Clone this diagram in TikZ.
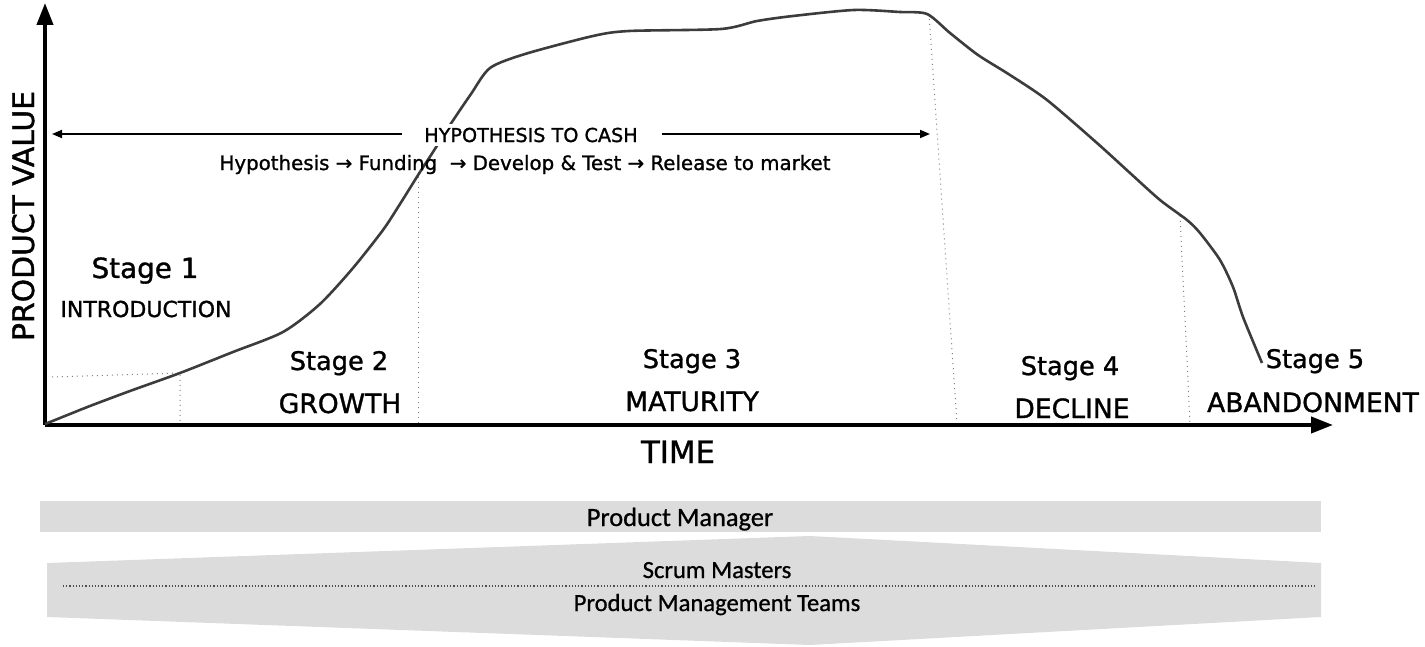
\documentclass[tikz,border=0pt]{standalone}
\usepackage{fontspec}
\setmainfont{DejaVu Sans}[FakeBold=1.2]
\newfontfamily\calfont{Carlito}[FakeBold=0.8]
\usetikzlibrary{arrows.meta}
\definecolor{bargray}{RGB}{220,220,220}
\definecolor{curvegray}{RGB}{60,60,60}
\begin{document}
\begin{tikzpicture}[x=0.5pt,y=-0.5pt,
  stagelbl/.style={font=\fontsize{12.8}{14}\selectfont, inner sep=0pt, anchor=base},
  phaselbl/.style={font=\fontsize{13.3}{15}\selectfont, inner sep=0pt, anchor=base},
  axisline/.style={line width=2pt, -{Triangle[length=11pt,width=8pt]}},
  hyparrow/.style={line width=0.9pt, -{Triangle[length=5pt,width=4pt]}},
  guide/.style={gray, dotted, line width=0.5pt},
  barlbl/.style={font=\calfont\fontsize{12.3}{14}\selectfont, inner sep=0pt, anchor=base}
]
\useasboundingbox (0,0) rectangle (1425,647);

% axes
\coordinate (O) at (45,425);
\coordinate (ytip) at (45,3);
\coordinate (xtip) at (1333,425);
\draw[axisline] (O) -- (ytip);
\draw[axisline] (O) -- (xtip);

% guide lines
\coordinate (g1a) at (52,377);
\coordinate (g1b) at (180,373);
\coordinate (g1c) at (180,423);
\coordinate (g2a) at (418,172);
\coordinate (g2b) at (418,423);
\coordinate (g3a) at (929,14);
\coordinate (g3b) at (957,423);
\coordinate (g4a) at (1180,216);
\coordinate (g4b) at (1190,423);
\draw[guide] (g1a) -- (g1b) -- (g1c);
\draw[guide] (g2a) -- (g2b);
\draw[guide] (g3a) -- (g3b);
\draw[guide] (g4a) -- (g4b);

% curve
\draw[curvegray, line width=1.3pt, line join=round] plot[smooth, tension=0.45] coordinates {
 (45,424) (60,418) (90,406) (130,391) (180,373) (233,352) (283,332) (320,304)
 (353,268) (383,230) (400,204) (420,172) (433,152) (452,122) (471,94) (490,68)
 (525,54) (593,36) (629,31) (721,29) (757,21) (793,16) (854,10) (900,12) (927,14)
 (950,33) (978,55) (1010,75) (1047,100) (1097,143) (1130,173) (1160,200) (1187,220)
 (1200,233) (1220,260) (1233,287) (1243,317) (1262,363)};

% axis titles
\node[font=\fontsize{14.9}{16}\selectfont, rotate=90, anchor=base, inner sep=0pt] (pv) at (34,216) {PRODUCT VALUE};
\node[font=\fontsize{15.4}{17}\selectfont, anchor=base, inner sep=0pt] (time) at (678,463) {TIME};

% hypothesis to cash
\node[font=\fontsize{9.6}{11}\selectfont, anchor=base, fill=white, inner xsep=1pt, inner ysep=2pt] (h2c) at (531,142) {HYPOTHESIS TO CASH};
\coordinate (hl) at (52,134);
\coordinate (hr) at (930,134);
\draw[hyparrow] ([xshift=-10pt]h2c.west |- hl) -- (hl);
\draw[hyparrow] ([xshift=11pt]h2c.east |- hr) -- (hr);
\node[font=\fontsize{9.9}{11}\selectfont, anchor=base, inner sep=0pt] (flow) at (525,170) {Hypothesis → Funding \ → Develop \& Test → Release to market};

% stage labels
\node[stagelbl, font=\fontsize{13.9}{15}\selectfont] (s1) at (145,278) {Stage 1};
\node[stagelbl, font=\fontsize{11}{12}\selectfont] (p1) at (146,317) {INTRODUCTION};
\node[stagelbl] (s2) at (339,370) {Stage 2};
\node[phaselbl] (p2) at (340,413) {GROWTH};
\node[stagelbl] (s3) at (692,368) {Stage 3};
\node[phaselbl] (p3) at (692,411) {MATURITY};
\node[stagelbl] (s4) at (1070,375) {Stage 4};
\node[phaselbl] (p4) at (1072,418) {DECLINE};
\node[stagelbl] (s5) at (1315,368) {Stage 5};
\node[phaselbl] (p5) at (1313,412) {ABANDONMENT};

% bottom bars
\fill[bargray] (40,501) rectangle (1321,532);
\fill[bargray] (47,563) -- (810,536) -- (1321,563) -- (1321,617) -- (810,645) -- (47,617) -- cycle;
\coordinate (dl) at (63,586);
\coordinate (dr) at (1317,586);
\draw[black!70, densely dotted, line width=0.6pt] (dl) -- (dr);
\node[barlbl, font=\calfont\fontsize{13.2}{15}\selectfont] (pm) at (680,526) {Product Manager};
\node[barlbl] (sm) at (717,578) {Scrum Masters};
\node[barlbl] (pmt) at (717,611) {Product Management Teams};
\end{tikzpicture}
\end{document}
